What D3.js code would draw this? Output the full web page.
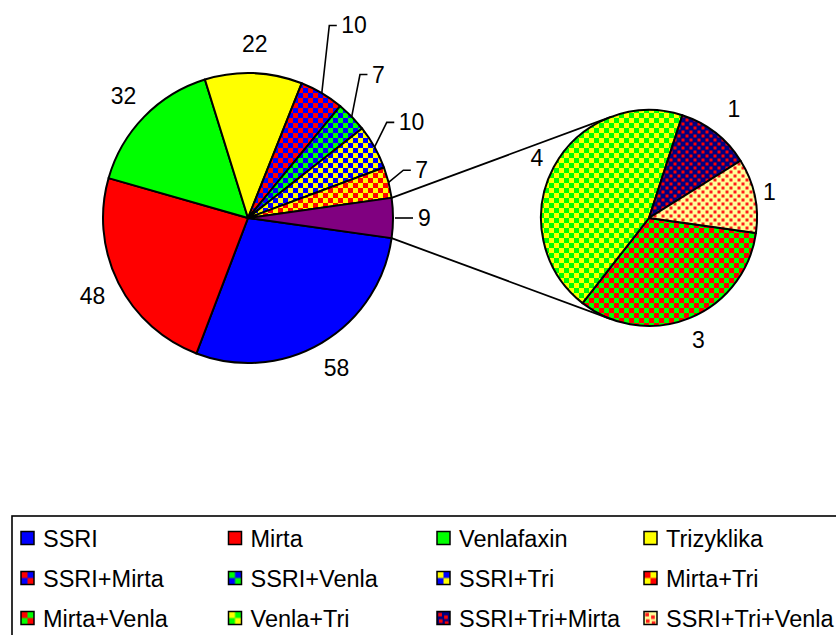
<!DOCTYPE html>
<html>
<head>
<meta charset="utf-8">
<script src="https://cdn.jsdelivr.net/npm/d3@7"></script>
<style>
  html, body { margin: 0; padding: 0; background: #fff; }
  svg { display: block; }
  text { font-family: "Liberation Sans", Arial, sans-serif; fill: #000; }
</style>
</head>
<body>
<svg id="chart" width="836" height="635"></svg>
<script>
// ---------------- DATA ----------------
const mainCategories = ["SSRI", "Mirta", "Venlafaxin", "Trizyklika", "SSRI+Mirta", "SSRI+Venla", "SSRI+Tri", "Mirta+Tri"];
const mainValues = [58, 48, 32, 22, 10, 7, 10, 7];
const subCategories = ["Mirta+Venla", "Venla+Tri", "SSRI+Tri+Mirta", "SSRI+Tri+Venla"];
const subValues = [3, 4, 1, 1];
const otherName = "Other";

// ---------------- STYLES / LAYOUT ----------------
const fills = {
  "SSRI":           { type: "solid", c: "#0000ff" },
  "Mirta":          { type: "solid", c: "#ff0000" },
  "Venlafaxin":     { type: "solid", c: "#00ff00" },
  "Trizyklika":     { type: "solid", c: "#ffff00" },
  "SSRI+Mirta":     { type: "check", c1: "#0000ff", c2: "#ff0000" },
  "SSRI+Venla":     { type: "check", c1: "#0000ff", c2: "#00ff00" },
  "SSRI+Tri":       { type: "check", c1: "#0000ff", c2: "#ffff00" },
  "Mirta+Tri":      { type: "check", c1: "#ffff00", c2: "#ff0000" },
  "Mirta+Venla":    { type: "check", c1: "#00ff00", c2: "#ff0000" },
  "Venla+Tri":      { type: "check", c1: "#00ff00", c2: "#ffff00" },
  "SSRI+Tri+Mirta": { type: "dots",  bg: "#000080", dot: "#ff0000" },
  "SSRI+Tri+Venla": { type: "dots",  bg: "#ffff99", dot: "#ff1a1a" },
  "Other":          { type: "solid", c: "#800080" }
};

const mainCx = 248, mainCy = 218, mainR = 145;
const subCx = 649, subCy = 218, subR = 108;
const deg = Math.PI / 180;
const mainLabelR = 174;
const labelFont = 23;
const legendFont = 23.5;
const leaderLayout = {
  "SSRI+Mirta": { da: -7.7, r: 209 },
  "SSRI+Venla": { da: -7.7, r: 182 },
  "SSRI+Tri":   { da: -5.3, r: 168.5 },
  "Mirta+Tri":  { da: -2.9, r: 162.5 }
};
const subLabelR = { "Mirta+Venla": 132, "Venla+Tri": 127, "SSRI+Tri+Mirta": 138, "SSRI+Tri+Venla": 123 };

const svg = d3.select("#chart");
svg.append("rect").attr("width", 836).attr("height", 635).attr("fill", "#fff");
const defs = svg.append("defs");

const safeId = s => "p_" + s.replace(/[^A-Za-z0-9]/g, "_");

// patterns for pie (user space) and legend (bounding box)
Object.entries(fills).forEach(([name, f]) => {
  if (f.type === "check") {
    const p = defs.append("pattern").attr("id", safeId(name))
      .attr("patternUnits", "userSpaceOnUse").attr("width", 10).attr("height", 10);
    p.append("rect").attr("width", 10).attr("height", 10).attr("fill", f.c1);
    p.append("rect").attr("width", 5).attr("height", 5).attr("fill", f.c2);
    p.append("rect").attr("x", 5).attr("y", 5).attr("width", 5).attr("height", 5).attr("fill", f.c2);
    const l = defs.append("pattern").attr("id", safeId(name) + "_lg")
      .attr("patternUnits", "objectBoundingBox").attr("patternContentUnits", "objectBoundingBox")
      .attr("width", 1).attr("height", 1);
    l.append("rect").attr("width", 1).attr("height", 1).attr("fill", f.c1);
    l.append("rect").attr("width", 0.5).attr("height", 0.5).attr("fill", f.c2);
    l.append("rect").attr("x", 0.5).attr("y", 0.5).attr("width", 0.5).attr("height", 0.5).attr("fill", f.c2);
  } else if (f.type === "dots") {
    const p = defs.append("pattern").attr("id", safeId(name))
      .attr("patternUnits", "userSpaceOnUse").attr("width", 8).attr("height", 8);
    p.append("rect").attr("width", 8).attr("height", 8).attr("fill", f.bg);
    p.append("rect").attr("x", 0.5).attr("y", 0.5).attr("width", 3).attr("height", 3).attr("fill", f.dot);
    p.append("rect").attr("x", 4.5).attr("y", 4.5).attr("width", 3).attr("height", 3).attr("fill", f.dot);
    const l = defs.append("pattern").attr("id", safeId(name) + "_lg")
      .attr("patternUnits", "objectBoundingBox").attr("patternContentUnits", "objectBoundingBox")
      .attr("width", 1).attr("height", 1);
    l.append("rect").attr("width", 1).attr("height", 1).attr("fill", f.bg);
    [[0.1, 0.1], [0.55, 0.3], [0.15, 0.6], [0.6, 0.75]].forEach(([x, y]) =>
      l.append("rect").attr("x", x).attr("y", y).attr("width", 0.28).attr("height", 0.28).attr("fill", f.dot));
  }
});
const fillOf = (name, legend) => {
  const f = fills[name];
  if (f.type === "solid") return f.c;
  return "url(#" + safeId(name) + (legend ? "_lg" : "") + ")";
};

// ---------------- MAIN PIE ----------------
const otherValue = d3.sum(subValues);
const mainData = mainCategories.map((c, i) => ({ name: c, value: mainValues[i] }))
  .concat([{ name: otherName, value: otherValue }]);
const mainTotal = d3.sum(mainData, d => d.value);
const mainStart = Math.PI / 2 + (otherValue / mainTotal) * Math.PI;
const pieMain = d3.pie().sort(null).value(d => d.value)
  .startAngle(mainStart).endAngle(mainStart + 2 * Math.PI);
const mainArcs = pieMain(mainData);
const arcMain = d3.arc().innerRadius(0).outerRadius(mainR);

const gMain = svg.append("g").attr("transform", `translate(${mainCx},${mainCy})`);
gMain.selectAll("path").data(mainArcs).join("path")
  .attr("d", arcMain)
  .attr("fill", d => fillOf(d.data.name))
  .attr("stroke", "#000").attr("stroke-width", 2).attr("stroke-linejoin", "round");

const polar = (a, r) => [r * Math.sin(a), -r * Math.cos(a)];

mainArcs.forEach(d => {
  const m = (d.startAngle + d.endAngle) / 2;
  const name = d.data.name;
  const lay = leaderLayout[name];
  if (lay) {
    const p = polar(m, mainR);
    const e = polar(m + lay.da * deg, lay.r);
    gMain.append("polyline")
      .attr("points", [p, e, [e[0] + 7.5, e[1]]].map(q => q.join(",")).join(" "))
      .attr("fill", "none").attr("stroke", "#000").attr("stroke-width", 1.6);
    gMain.append("text").attr("x", e[0] + 12).attr("y", e[1])
      .attr("dominant-baseline", "central").attr("font-size", labelFont).text(d.data.value);
  } else if (name === otherName) {
    const p1 = polar(m, mainR + 2), p2 = polar(m, mainR + 20), t = polar(m, mainR + 25);
    gMain.append("line").attr("x1", p1[0]).attr("y1", p1[1]).attr("x2", p2[0]).attr("y2", p2[1])
      .attr("stroke", "#000").attr("stroke-width", 1.6);
    gMain.append("text").attr("x", t[0]).attr("y", t[1])
      .attr("dominant-baseline", "central").attr("font-size", labelFont).text(d.data.value);
  } else {
    const t = polar(m, mainLabelR);
    gMain.append("text").attr("x", t[0]).attr("y", t[1])
      .attr("text-anchor", "middle").attr("dominant-baseline", "central")
      .attr("font-size", labelFont).text(d.data.value);
  }
});

// ---------------- SECOND PIE ----------------
const subData = subCategories.map((c, i) => ({ name: c, value: subValues[i] }));
const pieSub = d3.pie().sort(null).value(d => d.value)
  .startAngle(mainStart).endAngle(mainStart + 2 * Math.PI);
const subArcs = pieSub(subData);
const arcSub = d3.arc().innerRadius(0).outerRadius(subR);
const gSub = svg.append("g").attr("transform", `translate(${subCx},${subCy})`);
gSub.selectAll("path").data(subArcs).join("path")
  .attr("d", arcSub)
  .attr("fill", d => fillOf(d.data.name))
  .attr("stroke", "#000").attr("stroke-width", 2).attr("stroke-linejoin", "round");
subArcs.forEach(d => {
  const m = (d.startAngle + d.endAngle) / 2;
  const t = polar(m, subLabelR[d.data.name]);
  gSub.append("text").attr("x", t[0]).attr("y", t[1])
    .attr("text-anchor", "middle").attr("dominant-baseline", "central")
    .attr("font-size", labelFont).text(d.data.value);
});

// ---------------- CONNECTOR LINES (tangents) ----------------
const otherArc = mainArcs.find(d => d.data.name === otherName);
[[otherArc.startAngle, 1], [otherArc.endAngle, -1]].forEach(([a, side]) => {
  const p = polar(a, mainR);
  const px = mainCx + p[0], py = mainCy + p[1];
  const dx = px - subCx, dy = py - subCy;
  const dist = Math.hypot(dx, dy);
  const base = Math.atan2(dy, dx);
  const off = Math.acos(subR / dist);
  const ang = base + side * off;
  const tx = subCx + subR * Math.cos(ang), ty = subCy + subR * Math.sin(ang);
  svg.append("line").attr("x1", px).attr("y1", py).attr("x2", tx).attr("y2", ty)
    .attr("stroke", "#000").attr("stroke-width", 1.8);
});

// ---------------- LEGEND ----------------
const legendItems = mainCategories.concat(subCategories);
const legend = svg.append("g");
legend.append("rect").attr("x", 12).attr("y", 516).attr("width", 900).attr("height", 200)
  .attr("fill", "#fff").attr("stroke", "#000").attr("stroke-width", 1.6);
const colX = [21, 228.5, 437, 644];
const rowY = [546.5, 586.5, 626.5];
legendItems.forEach((name, i) => {
  const cx = colX[i % 4], by = rowY[Math.floor(i / 4)];
  legend.append("rect").attr("x", cx).attr("y", by - 15).attr("width", 13).attr("height", 13)
    .attr("fill", fillOf(name, true)).attr("stroke", "#000").attr("stroke-width", 1.5);
  legend.append("text").attr("x", cx + 22).attr("y", by)
    .attr("font-size", legendFont).text(name);
});
</script>
</body>
</html>
